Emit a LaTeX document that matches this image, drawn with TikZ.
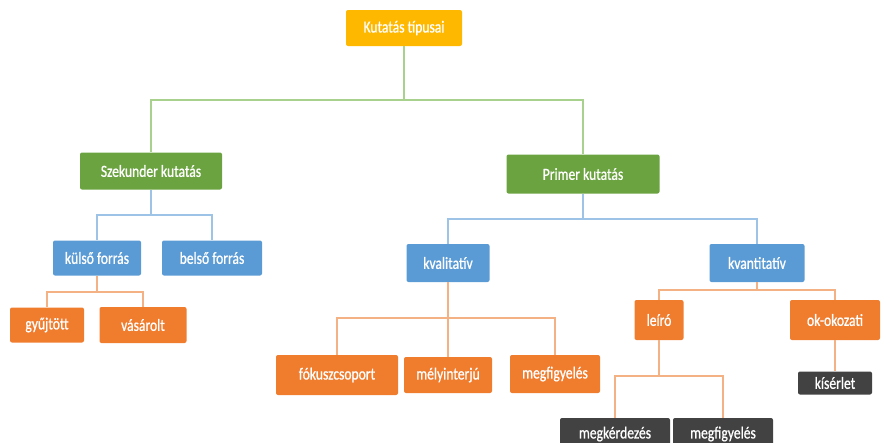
\documentclass[tikz,border=0pt]{standalone}
\usepackage{fontspec}
\setmainfont{Carlito}[FakeStretch=0.8,FakeBold=0.8]
\definecolor{cgold}{HTML}{FFB800}
\definecolor{cgreen}{HTML}{6AA33F}
\definecolor{cblue}{HTML}{5B9BD5}
\definecolor{corange}{HTML}{F07C2E}
\definecolor{cdark}{HTML}{424242}
\definecolor{lgreen}{HTML}{A9D18E}
\definecolor{lblue}{HTML}{9DC3E6}
\definecolor{lorange}{HTML}{F4B183}
\begin{document}
\begin{tikzpicture}[x=1pt,y=-1pt,
  box/.style={rectangle, rounded corners=2pt, text=white, inner sep=0pt,
    font=\fontsize{17}{19}\selectfont, anchor=center},
  gold/.style={box, fill=cgold},
  green/.style={box, fill=cgreen},
  blue/.style={box, fill=cblue},
  orng/.style={box, fill=corange},
  dark/.style={box, fill=cdark},
  gl/.style={draw=lgreen, line width=1.5pt},
  bl/.style={draw=lblue, line width=1.5pt},
  ol/.style={draw=lorange, line width=1.5pt}]
\useasboundingbox (0,0) rectangle (886,442);
\clip (0,0) rectangle (886,442);
% nodes
\node[gold, minimum width=116pt, minimum height=36pt] (root) at (404,28) {Kutatás típusai};
\node[green, minimum width=142pt, minimum height=37pt] (szek) at (151,171) {Szekunder kutatás};
\node[green, minimum width=153pt, minimum height=39pt] (prim) at (583,174) {Primer kutatás};
\node[blue, minimum width=88pt, minimum height=35pt] (kulso) at (97,258) {külső forrás};
\node[blue, minimum width=100pt, minimum height=35pt] (belso) at (212,258) {belső forrás};
\node[blue, minimum width=83pt, minimum height=38pt] (kval) at (448,263) {kvalitatív};
\node[blue, minimum width=95pt, minimum height=38pt] (kvant) at (757,263) {kvantitatív};
\node[orng, minimum width=74pt, minimum height=35pt] (gyujt) at (47,325) {gyűjtött};
\node[orng, minimum width=87pt, minimum height=36pt] (vas) at (143,325) {vásárolt};
\node[orng, minimum width=122pt, minimum height=40pt] (fok) at (337,375) {fókuszcsoport};
\node[orng, minimum width=88pt, minimum height=36pt] (mely) at (448,375) {mélyinterjú};
\node[orng, minimum width=90pt, minimum height=38pt] (megf) at (555,374) {megfigyelés};
\node[orng, minimum width=49pt, minimum height=40pt] (leiro) at (659,320) {leíró};
\node[orng, minimum width=90pt, minimum height=40pt] (okok) at (835,320) {ok-okozati};
\node[dark, minimum width=74pt, minimum height=23pt] (kiser) at (835,383) {kísérlet};
\node[dark, minimum width=110pt, minimum height=32pt] (megk) at (615,434) {megkérdezés};
\node[dark, minimum width=100pt, minimum height=32pt] (megf2) at (723,434) {megfigyelés};
% bus coordinates
\coordinate (b0) at (0,100);
\coordinate (b1) at (0,215);
\coordinate (b2) at (0,219);
\coordinate (b3) at (0,292);
\coordinate (b4) at (0,318);
\coordinate (b5) at (0,290);
\coordinate (b6) at (0,376);
% connectors
\draw[gl] (root.south) -- (root.south |- b0);
\draw[gl] (szek.north) |- (root.south |- b0) -| (prim.north);
\draw[bl] (szek.south) -- (szek.south |- b1);
\draw[bl] (kulso.north) |- (szek.south |- b1) -| (belso.north);
\draw[bl] (prim.south) -- (prim.south |- b2);
\draw[bl] (kval.north) |- (prim.south |- b2) -| (kvant.north);
\draw[ol] (kulso.south) -- (kulso.south |- b3);
\draw[ol] (gyujt.north) |- (kulso.south |- b3) -| (vas.north);
\draw[ol] (kval.south) -- (mely.north);
\draw[ol] (fok.north) |- (kval.south |- b4) -| (megf.north);
\draw[ol] (kvant.south) -- (kvant.south |- b5);
\draw[ol] (leiro.north) |- (kvant.south |- b5) -| (okok.north);
\draw[ol] (leiro.south) -- (leiro.south |- b6);
\draw[ol] (megk.north) |- (leiro.south |- b6) -| (megf2.north);
\draw[ol] (okok.south) -- (kiser.north);
\end{tikzpicture}
\end{document}
